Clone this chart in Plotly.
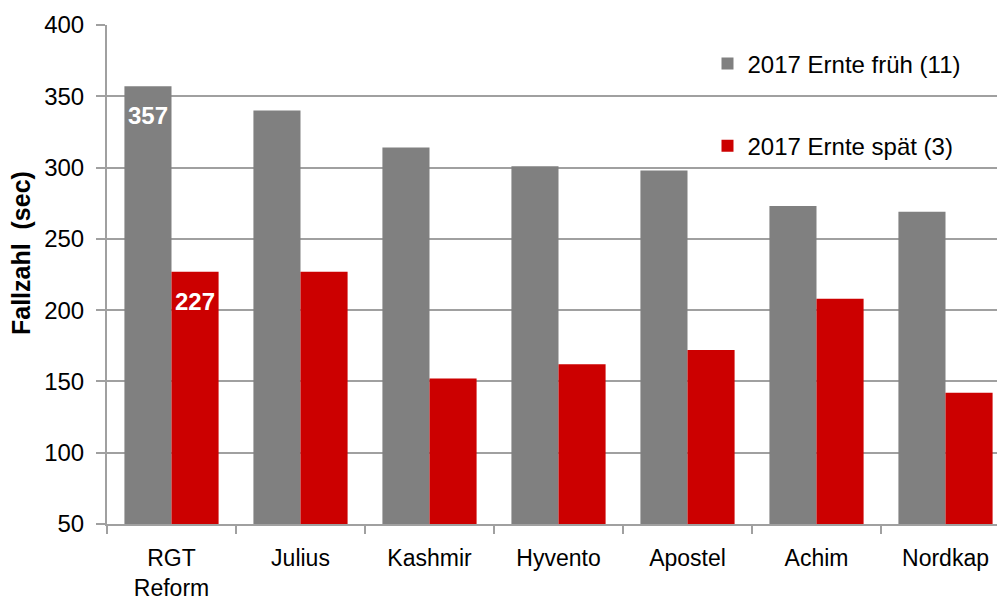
import plotly.graph_objects as go

categories = ["RGT<br>Reform", "Julius", "Kashmir", "Hyvento", "Apostel", "Achim", "Nordkap"]
frueh = [357, 340, 314, 301, 298, 273, 269]
spaet = [227, 227, 152, 162, 172, 208, 142]
frueh_labels = ["357", "", "", "", "", "", ""]
spaet_labels = ["227", "", "", "", "", "", ""]
name_frueh = "2017 Ernte früh (11)"
name_spaet = "2017 Ernte spät (3)"
y_title = "Fallzahl  (sec)"

FONT = "Liberation Sans Narrow, Arial Narrow, Liberation Sans, Arial"
GRID = "#a0a0a0"

fig = go.Figure()
fig.add_trace(go.Bar(x=categories, y=frueh, name=name_frueh, marker_color="#808080",
                     marker_line_width=0, legendgroup="a"))
fig.add_trace(go.Bar(x=categories, y=spaet, name=name_spaet, marker_color="#CC0000",
                     marker_line_width=0, legendgroup="b"))

for vals, labels, shift in [(frueh, frueh_labels, -23.5), (spaet, spaet_labels, 23.5)]:
    for c, v, t in zip(categories, vals, labels):
        if t:
            fig.add_annotation(x=c, y=v, text=f"<b>{t}</b>", showarrow=False,
                               xshift=shift, yshift=-14, yanchor="top",
                               font=dict(family=FONT, size=24, color="white"))

# y-axis title (placed slightly above the plot centre, as in the reference)
fig.add_annotation(xref="paper", yref="paper", x=0, y=0.543, xshift=-86,
                   text=f"<b>{y_title}</b>", textangle=-90, showarrow=False,
                   xanchor="center", yanchor="middle",
                   font=dict(family=FONT, size=25, color="black"))

fig.update_layout(
    width=1005, height=601,
    margin=dict(l=99, r=3, t=15, b=85),
    paper_bgcolor="white", plot_bgcolor="white",
    barmode="group", bargap=0.27, bargroupgap=0,
    font=dict(family=FONT, size=22, color="black"),
    legend=dict(x=0.665, y=0.967, xanchor="left", yanchor="top",
                bgcolor="rgba(0,0,0,0)", tracegroupgap=48,
                font=dict(family=FONT, size=24)),
    showlegend=True,
)
fig.update_xaxes(type="category", tickson="boundaries", ticks="outside", ticklen=8,
                 tickcolor=GRID, tickwidth=2, showline=True, linecolor=GRID, linewidth=2,
                 showgrid=False, tickfont=dict(family=FONT, size=23),
                 ticklabelstandoff=12)
fig.update_yaxes(range=[50, 400], dtick=50, tick0=50, showgrid=True, gridcolor=GRID,
                 gridwidth=2, showline=True, linecolor=GRID, linewidth=2,
                 ticks="outside", ticklen=9, tickcolor=GRID, tickwidth=2,
                 zeroline=False, tickfont=dict(family=FONT, size=24),
                 ticklabelstandoff=7)

fig.write_html("out.html")
